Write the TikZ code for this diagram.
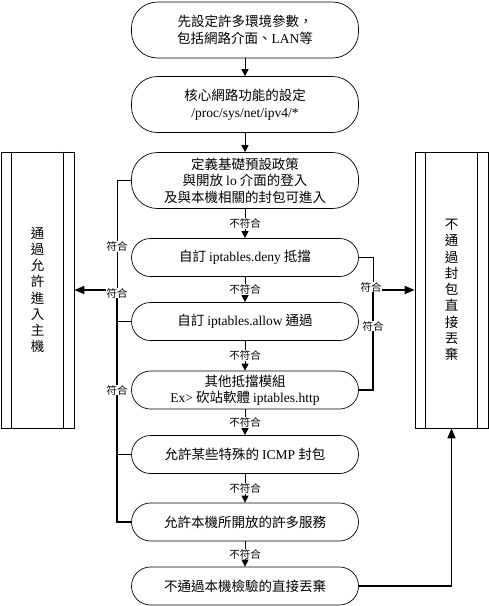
\documentclass[tikz,border=0pt]{standalone}
\usepackage{fontspec}
\setmainfont{Liberation Serif}
\newfontfamily\cjk{Noto Sans CJK TC}
\usetikzlibrary{arrows.meta}
\newcommand\en[1]{{\rmfamily #1}}

\begin{document}
\begin{tikzpicture}[x=1pt,y=-1pt,
    stepbox/.style={draw,line width=0.7pt,rounded corners=19pt,minimum width=227pt,minimum height=38pt,
      inner sep=0pt,align=center,font=\cjk\fontsize{13.5}{16.5}\selectfont},
    tallbox/.style={stepbox,minimum height=56pt,rounded corners=26pt},
    sidebox/.style={draw,line width=0.7pt,minimum width=73pt,minimum height=276pt,
      inner sep=0pt,align=center,font=\cjk\fontsize{13.5}{16.25}\selectfont},
    tag/.style={font=\cjk\fontsize{10.5}{10.5}\selectfont,fill=white,inner sep=0.5pt},
    flow/.style={line width=0.8pt,-{Triangle[length=7pt,width=7pt]}},
    side/.style={line width=1.6pt},
    sidearrow/.style={side,-{Triangle[length=10pt,width=8pt]}}]
  \useasboundingbox (0,0) rectangle (489,606);
  % main column
  \node[tallbox] (set) at (245,30) {先設定許多環境參數，\\包括網路介面、\en{LAN}等};
  \node[tallbox] (kernel) at (245,104.5) {核心網路功能的設定\\\en{/proc/sys/net/ipv4/*}};
  \node[tallbox] (rules) at (245,180.5) {定義基礎預設政策\\與開放 \en{lo} 介面的登入\\及與本機相關的封包可進入};
  \node[stepbox] (deny) at (245,257.5) {自訂 \en{iptables.deny} 抵擋};
  \node[stepbox] (allow) at (245,321.5) {自訂 \en{iptables.allow} 通過};
  \node[stepbox] (module) at (245,390) {其他抵擋模組\\\en{Ex>} 砍站軟體 \en{iptables.http}};
  \node[stepbox] (icmp) at (245,454.5) {允許某些特殊的 \en{ICMP} 封包};
  \node[stepbox] (service) at (245,522) {允許本機所開放的許多服務};
  \node[stepbox] (reject) at (245,586) {不通過本機檢驗的直接丟棄};
  % side boxes
  \node[sidebox] (pass) at (37.5,290) {通\\過\\允\\許\\進\\入\\主\\機};
  \node[sidebox] (drop) at (451.5,290) {不\\通\\過\\封\\包\\直\\接\\丟\\棄};
  \draw[line width=0.7pt]
    ([xshift=11pt]pass.north west) -- ([xshift=11pt]pass.south west)
    ([xshift=-11pt]pass.north east) -- ([xshift=-11pt]pass.south east)
    ([xshift=11pt]drop.north west) -- ([xshift=11pt]drop.south west)
    ([xshift=-11pt]drop.north east) -- ([xshift=-11pt]drop.south east);
  \coordinate (ljoin) at (117,290);
  \coordinate (rjoin) at (373,290);
  % down the column
  \draw[flow] (set) -- (kernel);
  \draw[flow] (kernel) -- (rules);
  \draw[flow] (rules) -- node[tag]{不符合} (deny);
  \draw[flow] (deny) -- node[tag]{不符合} (allow);
  \draw[flow] (allow) -- node[tag]{不符合} (module);
  \draw[flow] (module) -- node[tag]{不符合} (icmp);
  \draw[flow] (icmp) -- node[tag]{不符合} (service);
  \draw[flow] (service) -- node[tag]{不符合} (reject);
  % accepted
  \draw[line width=0.9pt] (rules.west) -| node[tag,pos=0.8]{符合} (ljoin);
  \draw[side] (allow.west) -| (ljoin);
  \draw[side] (icmp.west) -| (ljoin);
  \draw[side] (service.west) -| (ljoin);
  \draw[sidearrow] (ljoin) -- (pass.east);
  \node[tag] (lok) at (117,293) {符合};
  \node[tag] (lmod) at (117,390) {符合};
  % dropped
  \draw[line width=0.9pt] (deny.east) -| (rjoin);
  \draw[side] (module.east) -| node[tag,pos=0.82]{符合} (rjoin);
  \draw[sidearrow] (rjoin) -- (drop.west);
  \node[tag] (rok) at (371,287) {符合};
  \draw[sidearrow] (reject.east) -| (drop.south);
\end{tikzpicture}
\end{document}
